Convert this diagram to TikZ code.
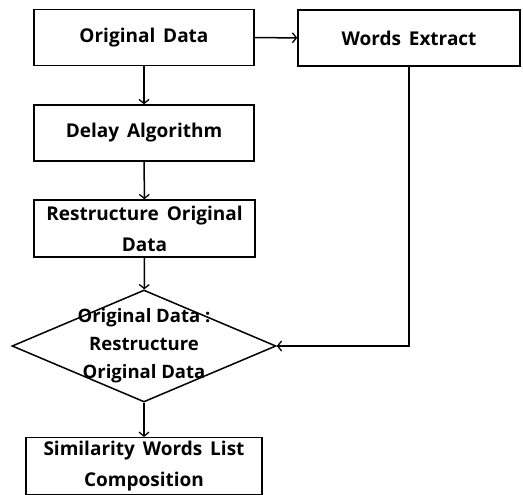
\documentclass[tikz,border=0pt]{standalone}
\usepackage{fontspec}
\setmainfont{Open Sans}
\newfontfamily\boxfont[WordSpace=1.6]{Open Sans}
\usepackage{tikz}
\usetikzlibrary{arrows.meta, positioning, shapes.geometric}

\tikzset{
    stepbox/.style={draw, line width=1.5pt, rectangle, minimum height=56, align=center,
        font=\boxfont\bfseries\fontsize{19}{31}\selectfont},
    testbox/.style={draw, line width=1.5pt, diamond, minimum width=264, minimum height=112, inner sep=0pt},
    flow/.style={line width=1.5pt, -{Straight Barb[length=4pt, width=10pt, line width=1.3pt]}}
}

\begin{document}
\begin{tikzpicture}[x=1pt, y=-1pt]
    \useasboundingbox (0,0) rectangle (523,495);

    % Boxes
    \node[stepbox, minimum width=220] (orig) at (144,37.5) {Original Data};
    \node[stepbox, minimum width=222] (words) at (409,38) {Words Extract};
    \node[stepbox, minimum width=220] (delay) at (144,133) {Delay Algorithm};
    \node[stepbox, minimum width=221, minimum height=57] (restr) at (144.5,228.5) {Restructure Original\\Data};
    \node[testbox] (comp) at (144,346) {};
    \node[font=\bfseries\fontsize{18.5}{28}\selectfont, align=center] (comptext) at (comp.center) {Original Data :\\Restructure\\Original Data};
    \node[stepbox, minimum width=236] (simil) at (144,466) {Similarity Words List\\Composition};

    % Arrows
    \draw[flow] (orig) -- (words);
    \draw[flow] (orig) -- (delay);
    \draw[flow] (delay) -- (restr);
    \draw[flow] (restr) -- (comp);
    \draw[flow] (words.south) |- (comp.east);
    \draw[flow] (comp) -- (simil);
\end{tikzpicture}
\end{document}
